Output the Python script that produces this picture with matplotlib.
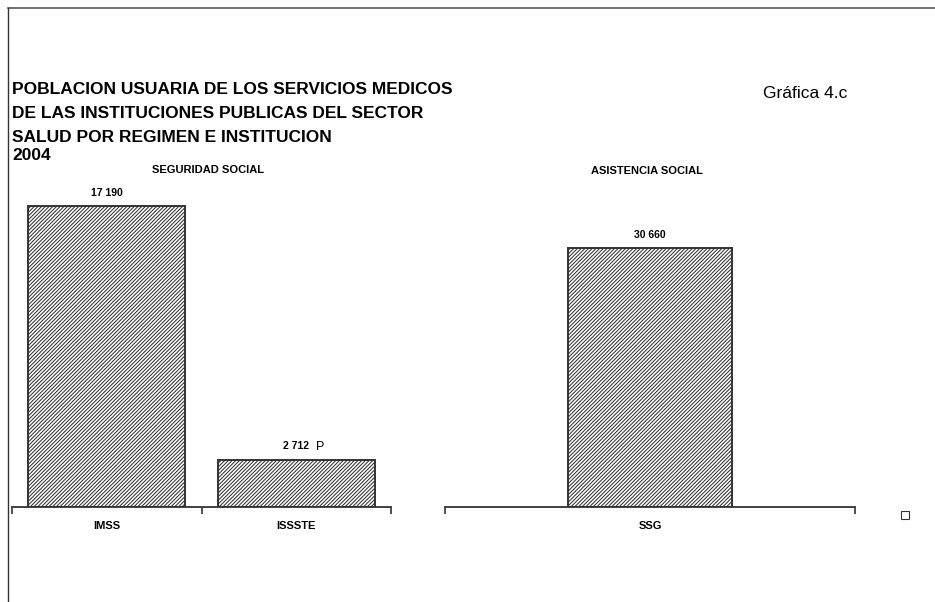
import numpy as np
import matplotlib.pyplot as plt
import matplotlib.lines as mlines

# data
seg_names = ["IMSS", "ISSSTE"]
seg_values = [17190, 2712]
seg_labels = ["17 190", "2 712"]
asis_names = ["SSG"]
asis_values = [30660]
asis_labels = ["30 660"]

title_lines = ["POBLACION USUARIA DE LOS SERVICIOS MEDICOS",
               "DE LAS INSTITUCIONES PUBLICAS DEL SECTOR",
               "SALUD POR REGIMEN E INSTITUCION",
               "2004"]

narrow = ["Liberation Sans Narrow", "Liberation Sans", "DejaVu Sans"]
plt.rcParams['font.family'] = ["Liberation Sans", "DejaVu Sans"]
plt.rcParams['hatch.linewidth'] = 0.75

fig = plt.figure(figsize=(9.35, 6.02), dpi=100)
W, H = 935, 602

def fx(px):
    return px / W

def fy(py):
    return 1 - py / H

# frame lines (top and left)
fig.add_artist(mlines.Line2D([fx(8), 1], [fy(8), fy(8)], color="#555555", lw=1.2))
fig.add_artist(mlines.Line2D([fx(8), fx(8)], [fy(8), 0], color="#333333", lw=1.0))

# title
ys = [90, 114, 137, 155]
for t, y in zip(title_lines, ys):
    fig.text(fx(12), fy(y), t, fontsize=12.5, fontweight="bold", family=narrow,
             fontstretch="condensed", ha="left", va="center")
fig.text(fx(763), fy(93), "Gráfica 4.c", fontsize=12.5, family=narrow,
         fontstretch="condensed", ha="left", va="center")

# axes: baseline at y=507, top at y=180
base, top = 507, 180
axL = fig.add_axes([fx(12), fy(base), fx(391) - fx(12), (base - top) / H])
axR = fig.add_axes([fx(445), fy(base), fx(855) - fx(445), (base - top) / H])

def draw(ax, names, values, labels, width, ymax):
    x = np.arange(len(names))
    ax.bar(x, values, width=width, color="white", edgecolor="#333333",
           hatch="/////////", linewidth=1.4, zorder=2)
    ax.set_xlim(-0.5, len(names) - 0.5)
    ax.set_ylim(0, ymax)
    for s in ["top", "right", "left"]:
        ax.spines[s].set_visible(False)
    ax.spines["bottom"].set_color("#333333")
    ax.spines["bottom"].set_linewidth(1.3)
    ax.set_yticks([])
    ax.set_xticks(x)
    ax.set_xticklabels(names, fontsize=8, fontweight="bold", family=narrow)
    ax.tick_params(axis="x", which="major", length=0, pad=10)
    ax.set_xticks(np.arange(len(names) + 1) - 0.5, minor=True)
    ax.tick_params(axis="x", which="minor", length=5, width=1.2, color="#333333",
                   direction="out")
    for xi, v, lab in zip(x, values, labels):
        ax.annotate(lab, (xi, v), xytext=(0, 6), textcoords="offset points",
                    ha="center", va="bottom", fontsize=7.5, fontweight="bold",
                    family=narrow)
    ax.patch.set_alpha(0)

draw(axL, seg_names, seg_values, seg_labels, 0.83, 17190 * 327 / 301)
draw(axR, asis_names, asis_values, asis_labels, 0.40, 30660 * 327 / 259)

# preliminary mark on ISSSTE
axL.annotate("P", (1, seg_values[1]), xytext=(17, 5), textcoords="offset points",
             ha="center", va="bottom", fontsize=9)

# panel headers
fig.text(fx(208), fy(170), "SEGURIDAD SOCIAL", fontsize=8, fontweight="bold",
         family=narrow, ha="center", va="center")
fig.text(fx(647), fy(171), "ASISTENCIA SOCIAL", fontsize=8, fontweight="bold",
         family=narrow, ha="center", va="center")

# small empty square (legend remnant)
fig.add_artist(mlines.Line2D([fx(905)], [fy(515)], marker="s", markersize=6,
                             markerfacecolor="white", markeredgecolor="#333333",
                             markeredgewidth=0.8, linestyle="none"))

fig.savefig("out.png", dpi=100, facecolor="white")
